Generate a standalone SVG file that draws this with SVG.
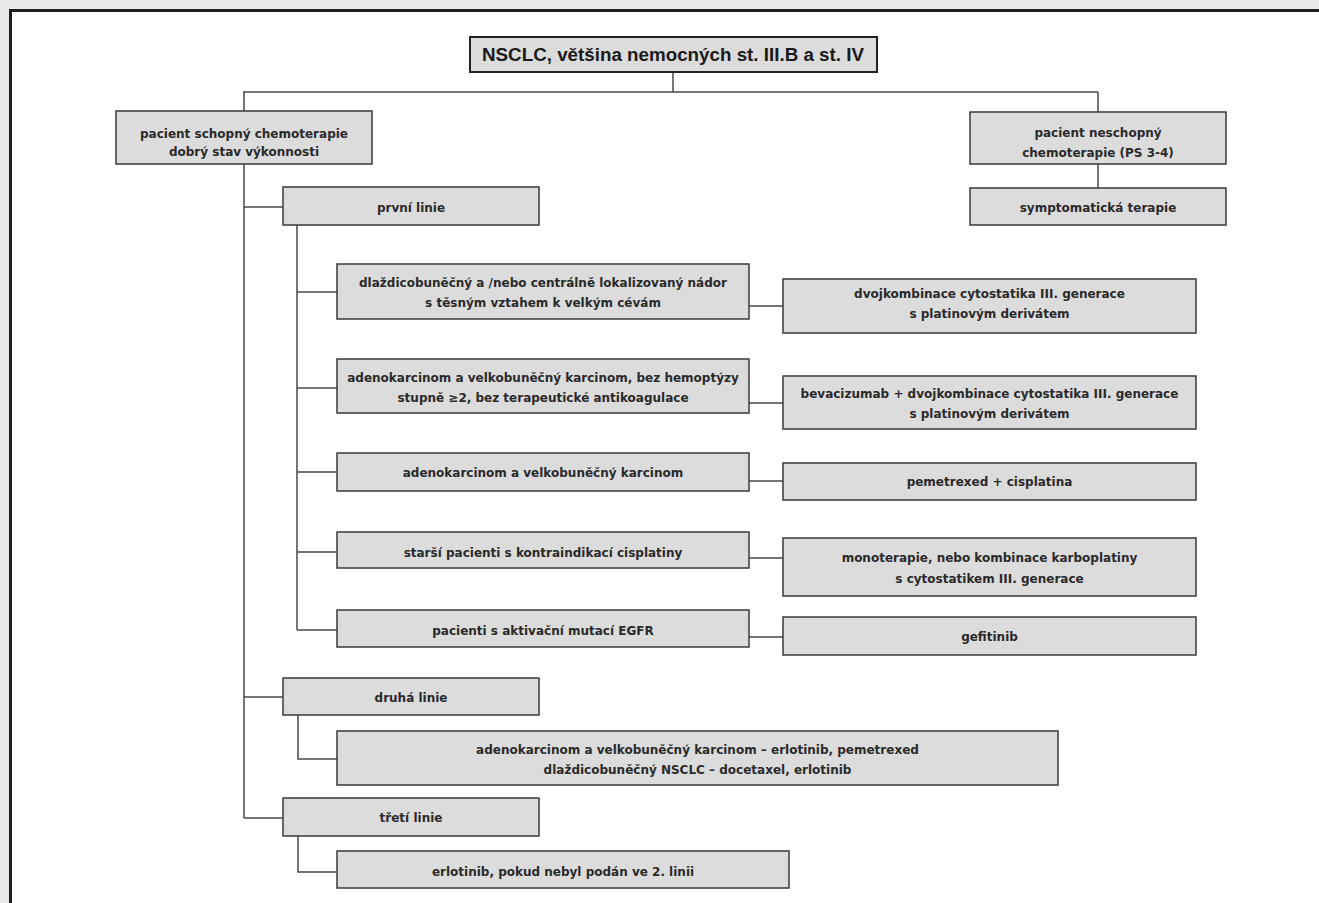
<svg xmlns="http://www.w3.org/2000/svg" width="1319" height="903" viewBox="0 0 1319 903">
<style>
.box{fill:#dcdcdc;stroke:#3a3a3a;stroke-width:1.5}
.t{font-family:"DejaVu Sans","Liberation Sans",Arial,sans-serif;font-weight:bold;font-size:12px;fill:#2a2a2a;text-anchor:middle}
.title{font-family:"Liberation Sans Narrow","Liberation Sans",Arial,sans-serif;font-weight:bold;font-size:18px;fill:#1a1a1a;text-anchor:middle}
.c{fill:none;stroke:#4a4a4a;stroke-width:1.5}
</style>
<rect x="0" y="0" width="1319" height="903" fill="#e8e8e8"/>
<rect x="11" y="11" width="1308" height="892" fill="#ffffff"/>
<line x1="10" y1="10.5" x2="1319" y2="10.5" stroke="#1e1e1e" stroke-width="3"/>
<line x1="10.5" y1="9" x2="10.5" y2="903" stroke="#1e1e1e" stroke-width="3"/>
<g id="connectors">
<path class="c" d="M673 72V92M243 92H1098M244 92V111M1098 92V112M1098 164V188"/>
<path class="c" d="M244 164V818M244 207H283M244 697H283M244 818H283"/>
<path class="c" d="M297 225V630M297 292H337M297 388H337M297 472H337M297 552H337M297 630H337"/>
<path class="c" d="M749 306H783M749 403H783M749 481H783M749 558H783M749 637H783"/>
<path class="c" d="M298 715V759H337M298 836V872H337"/>
</g>
<g id="n-title"><rect class="box" x="470" y="37" width="407" height="35" style="stroke-width:2;stroke:#222"/><text class="title" x="673" y="61" textLength="382" lengthAdjust="spacingAndGlyphs">NSCLC, většina nemocných st. III.B a st. IV</text></g>
<g id="n-schopny"><rect class="box" x="116" y="111" width="256" height="53"/><text class="t" x="244" y="137.5">pacient schopný chemoterapie</text><text class="t" x="244" y="155.5">dobrý stav výkonnosti</text></g>
<g id="n-neschopny"><rect class="box" x="970" y="112" width="256" height="52"/><text class="t" x="1098" y="136.5">pacient neschopný</text><text class="t" x="1098" y="156.5">chemoterapie (PS 3-4)</text></g>
<g id="n-symptom"><rect class="box" x="970" y="188" width="256" height="37"/><text class="t" x="1098" y="212">symptomatická terapie</text></g>
<g id="n-prvni"><rect class="box" x="283" y="187" width="256" height="38"/><text class="t" x="411" y="212">první linie</text></g>
<g id="n-a1"><rect class="box" x="337" y="264" width="412" height="55"/><text class="t" x="543" y="286.5">dlaždicobuněčný a /nebo centrálně lokalizovaný nádor</text><text class="t" x="543" y="306.5">s těsným vztahem k velkým cévám</text></g>
<g id="n-a2"><rect class="box" x="337" y="359" width="412" height="54"/><text class="t" x="543" y="381.5">adenokarcinom a velkobuněčný karcinom, bez hemoptýzy</text><text class="t" x="543" y="401.5">stupně ≥2, bez terapeutické antikoagulace</text></g>
<g id="n-a3"><rect class="box" x="337" y="453" width="412" height="38"/><text class="t" x="543" y="476.5">adenokarcinom a velkobuněčný karcinom</text></g>
<g id="n-a4"><rect class="box" x="337" y="532" width="412" height="36"/><text class="t" x="543" y="556.5">starší pacienti s kontraindikací cisplatiny</text></g>
<g id="n-a5"><rect class="box" x="337" y="610" width="412" height="37"/><text class="t" x="543" y="634.5">pacienti s aktivační mutací EGFR</text></g>
<g id="n-r1"><rect class="box" x="783" y="279" width="413" height="54"/><text class="t" x="989.5" y="297.5">dvojkombinace cytostatika III. generace</text><text class="t" x="989.5" y="317.5">s platinovým derivátem</text></g>
<g id="n-r2"><rect class="box" x="783" y="376" width="413" height="53"/><text class="t" x="989.5" y="397.5">bevacizumab + dvojkombinace cytostatika III. generace</text><text class="t" x="989.5" y="417.5">s platinovým derivátem</text></g>
<g id="n-r3"><rect class="box" x="783" y="463" width="413" height="37"/><text class="t" x="989.5" y="485.5">pemetrexed + cisplatina</text></g>
<g id="n-r4"><rect class="box" x="783" y="538" width="413" height="58"/><text class="t" x="989.5" y="561.5">monoterapie, nebo kombinace karboplatiny</text><text class="t" x="989.5" y="582.5">s cytostatikem III. generace</text></g>
<g id="n-r5"><rect class="box" x="783" y="617" width="413" height="38"/><text class="t" x="989.5" y="640.5">gefitinib</text></g>
<g id="n-druha"><rect class="box" x="283" y="678" width="256" height="37"/><text class="t" x="411" y="701.5">druhá linie</text></g>
<g id="n-druha-c"><rect class="box" x="337" y="731" width="721" height="54"/><text class="t" x="697.5" y="753.5">adenokarcinom a velkobuněčný karcinom – erlotinib, pemetrexed</text><text class="t" x="697.5" y="773.5">dlaždicobuněčný NSCLC – docetaxel, erlotinib</text></g>
<g id="n-treti"><rect class="box" x="283" y="798" width="256" height="38"/><text class="t" x="411" y="821.5">třetí linie</text></g>
<g id="n-treti-c"><rect class="box" x="337" y="851" width="452" height="37"/><text class="t" x="563" y="876">erlotinib, pokud nebyl podán ve 2. linii</text></g>
</svg>
